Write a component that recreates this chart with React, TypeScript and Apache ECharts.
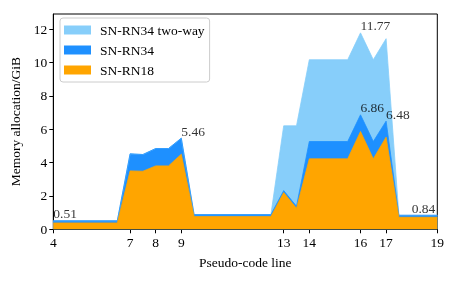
import React, { useEffect, useRef } from "react";
import * as echarts from "echarts";

const xs = [4, 6.5, 7, 7.5, 8, 8.5, 9, 9.5, 12.5, 13, 13.5, 14, 15.5, 16, 16.5, 17, 17.5, 19];
const rn18 = [0.38, 0.38, 3.5, 3.48, 3.8, 3.8, 4.5, 0.76, 0.76, 2.2, 1.26, 4.22, 4.22, 5.86, 4.22, 5.52, 0.72, 0.72];
const rn34 = [0.51, 0.51, 4.52, 4.48, 4.84, 4.84, 5.46, 0.88, 0.88, 2.32, 1.38, 5.26, 5.26, 6.86, 5.26, 6.48, 0.84, 0.84];
const rn34TwoWay = [0.51, 0.51, 4.52, 4.48, 4.84, 4.84, 5.46, 0.88, 0.88, 6.2, 6.2, 10.16, 10.16, 11.77, 10.16, 11.42, 0.84, 0.84];
const xTicks = [4, 7, 8, 9, 13, 14, 16, 17, 19];
const yTicks = [0, 2, 4, 6, 8, 10, 12];
const annotations: [number, number][] = [
  [4, 0.51],
  [9, 5.46],
  [16, 11.77],
  [16, 6.86],
  [17, 6.48],
  [18, 0.84],
];

const FONT = "Liberation Serif";
const FS = 13.5;

export default function App() {
  const ref = useRef<HTMLDivElement>(null);
  useEffect(() => {
    if (!ref.current) return;
    const chart = echarts.init(ref.current, null, { renderer: "svg" });
    const pair = (arr: number[]) => xs.map((x, i) => [x, arr[i]]);
    const area = (name: string, arr: number[], color: string) => ({
      name,
      type: "line",
      data: pair(arr),
      showSymbol: false,
      symbol: "none",
      color,
      lineStyle: { width: 0.8, color },
      areaStyle: { color, opacity: 1, origin: "start" },
      silent: true,
    });
    chart.setOption({
      animation: false,
      textStyle: { fontFamily: FONT },
      grid: {
        left: 53.3,
        right: 19.7,
        top: 14,
        bottom: 53.7,
        show: true,
        borderColor: "#000",
        borderWidth: 1,
        backgroundColor: "transparent",
      },
      legend: {
        orient: "vertical",
        left: 60,
        top: 18,
        padding: [5, 5, 5, 4],
        itemWidth: 27,
        itemHeight: 9,
        itemGap: 6,
        icon: "rect",
        borderColor: "#ccc",
        borderWidth: 1,
        borderRadius: 3,
        backgroundColor: "rgba(255,255,255,0.8)",
        textStyle: { fontFamily: FONT, fontSize: FS, color: "#000", lineHeight: 13, padding: [0, 0, 0, 4] },
        data: ["SN-RN34 two-way", "SN-RN34", "SN-RN18"],
      },
      xAxis: {
        type: "value",
        min: 4,
        max: 19,
        name: "Pseudo-code line",
        nameLocation: "middle",
        nameGap: 26,
        nameTextStyle: { fontFamily: FONT, fontSize: FS, color: "#000" },
        axisLine: { show: true, lineStyle: { color: "#000", width: 1 } },
        axisTick: { show: true, length: 4, customValues: xTicks, lineStyle: { color: "#000" } },
        axisLabel: { customValues: xTicks, fontFamily: FONT, fontSize: FS, color: "#000", margin: 6 },
        splitLine: { show: false },
      },
      yAxis: {
        type: "value",
        min: 0,
        max: 12.9,
        name: "Memory allocation/GiB",
        nameLocation: "middle",
        nameGap: 23,
        nameTextStyle: { fontFamily: FONT, fontSize: FS, color: "#000" },
        axisLine: { show: true, lineStyle: { color: "#000", width: 1 } },
        axisTick: { show: true, length: 4, customValues: yTicks, lineStyle: { color: "#000" } },
        axisLabel: { customValues: yTicks, fontFamily: FONT, fontSize: FS, color: "#000", margin: 6 },
        splitLine: { show: false },
      },
      series: [
        area("SN-RN34 two-way", rn34TwoWay, "#87CEFA"),
        area("SN-RN34", rn34, "#1E90FF"),
        area("SN-RN18", rn18, "#FFA500"),
        {
          name: "labels",
          type: "scatter",
          data: annotations,
          symbolSize: 0.1,
          silent: true,
          z: 10,
          label: {
            show: true,
            position: [0, 0],
            align: "left",
            verticalAlign: "bottom",
            formatter: (p: any) => p.value[1].toFixed(2),
            fontFamily: FONT,
            fontSize: FS,
            color: "#000",
          },
        },
      ],
    });
    return () => chart.dispose();
  }, []);
  return <div ref={ref} style={{ position: "fixed", left: 0, top: 0, width: 457, height: 283 }} />;
}
